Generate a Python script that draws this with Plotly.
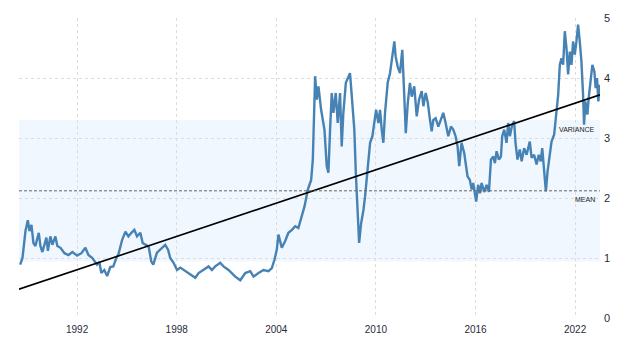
import plotly.graph_objects as go

# ---- data (decimal year, value) ----
years = [
    1988.57, 1988.71, 1988.89, 1989.03, 1989.13, 1989.25, 1989.37, 1989.49, 1989.69, 1989.79,
    1989.91, 1990.15, 1990.24, 1990.39, 1990.51, 1990.69, 1990.81, 1991.00, 1991.24, 1991.48,
    1991.72, 1992.00, 1992.26, 1992.50, 1992.68, 1992.92, 1993.20, 1993.34, 1993.46, 1993.64,
    1993.81, 1994.00, 1994.18, 1994.36, 1994.49, 1994.71, 1994.91, 1995.09, 1995.27, 1995.45,
    1995.61, 1995.81, 1995.95, 1996.11, 1996.31, 1996.47, 1996.59, 1996.81, 1997.11, 1997.31,
    1997.48, 1997.61, 1997.81, 1998.02, 1998.22, 1998.52, 1998.82, 1999.12, 1999.32, 1999.62,
    1999.92, 2000.12, 2000.32, 2000.62, 2000.82, 2001.12, 2001.53, 2001.83, 2002.13, 2002.43,
    2002.63, 2002.93, 2003.23, 2003.53, 2003.73, 2003.89, 2004.03, 2004.13, 2004.23, 2004.33,
    2004.53, 2004.73, 2004.94, 2005.14, 2005.33, 2005.50, 2005.70, 2005.90, 2006.10, 2006.20,
    2006.28, 2006.34, 2006.44, 2006.54, 2006.70, 2006.84, 2006.90, 2007.04, 2007.14, 2007.24,
    2007.34, 2007.44, 2007.58, 2007.70, 2007.84, 2007.94, 2008.04, 2008.19, 2008.34, 2008.44,
    2008.55, 2008.70, 2008.79, 2008.91, 2008.99, 2009.11, 2009.25, 2009.35, 2009.45, 2009.59,
    2009.65, 2009.79, 2009.91, 2010.01, 2010.15, 2010.25, 2010.35, 2010.45, 2010.55, 2010.71,
    2010.85, 2010.99, 2011.11, 2011.19, 2011.31, 2011.45, 2011.59, 2011.71, 2011.80, 2011.92,
    2012.05, 2012.16, 2012.31, 2012.46, 2012.60, 2012.76, 2012.86, 2013.00, 2013.12, 2013.26,
    2013.36, 2013.46, 2013.60, 2013.76, 2013.92, 2014.06, 2014.20, 2014.36, 2014.52, 2014.66,
    2014.80, 2014.92, 2015.02, 2015.16, 2015.32, 2015.42, 2015.52, 2015.66, 2015.77, 2015.86,
    2015.97, 2016.04, 2016.16, 2016.27, 2016.37, 2016.52, 2016.67, 2016.81, 2016.93, 2017.07,
    2017.17, 2017.27, 2017.41, 2017.53, 2017.61, 2017.73, 2017.87, 2017.97, 2018.07, 2018.21,
    2018.33, 2018.41, 2018.53, 2018.67, 2018.78, 2018.93, 2019.08, 2019.27, 2019.38, 2019.53,
    2019.68, 2019.81, 2019.93, 2020.02, 2020.14, 2020.24, 2020.34, 2020.44, 2020.58, 2020.74,
    2020.88, 2020.98, 2021.08, 2021.18, 2021.28, 2021.38, 2021.48, 2021.58, 2021.68, 2021.78,
    2021.88, 2021.98, 2022.08, 2022.18, 2022.28, 2022.38, 2022.48, 2022.54, 2022.62, 2022.74,
    2022.82, 2022.94, 2023.04, 2023.16, 2023.24, 2023.32, 2023.40, 2023.48,
]
values = [
    0.89, 1.00, 1.45, 1.63, 1.45, 1.55, 1.25, 1.20, 1.42, 1.20,
    1.10, 1.34, 1.12, 1.36, 1.22, 1.36, 1.20, 1.17, 1.08, 1.05,
    1.10, 1.04, 1.08, 1.17, 1.05, 1.00, 0.89, 0.93, 0.75, 0.80,
    0.70, 0.85, 0.86, 1.00, 1.06, 1.30, 1.44, 1.36, 1.42, 1.47,
    1.36, 1.42, 1.25, 1.22, 1.19, 0.94, 0.89, 1.09, 1.17, 1.22,
    1.14, 1.00, 0.92, 0.80, 0.84, 0.78, 0.72, 0.67, 0.75, 0.80,
    0.86, 0.80, 0.86, 0.92, 0.86, 0.80, 0.69, 0.63, 0.75, 0.78,
    0.69, 0.75, 0.80, 0.78, 0.83, 0.97, 1.14, 1.39, 1.28, 1.17,
    1.28, 1.42, 1.47, 1.53, 1.50, 1.67, 1.86, 2.14, 2.30, 2.64,
    3.47, 4.03, 3.64, 3.86, 3.47, 3.19, 3.14, 2.53, 2.42, 3.14,
    3.75, 3.42, 3.75, 3.25, 3.75, 2.86, 3.42, 3.92, 4.03, 4.08,
    3.69, 3.14, 2.42, 1.58, 1.25, 1.58, 1.80, 2.03, 2.36, 2.75,
    2.92, 3.03, 3.25, 3.47, 3.25, 3.47, 3.14, 2.92, 3.42, 3.92,
    4.08, 4.36, 4.61, 4.36, 4.19, 4.08, 4.47, 3.69, 3.08, 3.58,
    3.92, 3.69, 3.86, 3.36, 3.64, 3.78, 3.53, 3.75, 3.60, 3.30,
    3.11, 3.30, 3.33, 3.19, 3.30, 3.42, 3.25, 3.03, 3.19, 3.14,
    3.03, 2.86, 2.53, 2.92, 2.75, 2.58, 2.36, 2.30, 2.14, 2.25,
    2.08, 1.94, 2.22, 2.08, 2.25, 2.10, 2.22, 2.10, 2.64, 2.69,
    2.58, 2.78, 2.64, 2.69, 3.03, 3.14, 2.92, 3.25, 3.03, 3.22,
    3.28, 2.92, 2.64, 2.81, 2.61, 2.83, 2.72, 2.94, 2.67, 2.72,
    2.56, 2.72, 2.61, 2.83, 2.44, 2.11, 2.44, 2.67, 2.94, 3.06,
    3.39, 3.72, 4.22, 4.33, 4.22, 4.78, 4.50, 4.06, 4.44, 4.22,
    4.61, 4.39, 4.61, 4.89, 4.61, 4.28, 3.72, 3.22, 3.61, 3.39,
    3.67, 3.94, 4.22, 4.11, 3.83, 4.00, 3.61, 3.89,
]

mean_value = 2.12
std_value = 1.18
trend_years = [1988.5, 2023.5]
trend_values = [0.48, 3.72]
tick_years = [1992, 1998, 2004, 2010, 2016, 2022]
tick_labels = ["1992", "1998", "2004", "2010", "2016", "2022"]
y_ticks = [0, 1, 2, 3, 4, 5]

x_range = [1988.5, 2023.5]

fig = go.Figure()

fig.add_trace(go.Scatter(
    x=years, y=values, mode="lines",
    line=dict(color="rgb(70,130,180)", width=2.4),
    hoverinfo="skip", showlegend=False,
))
fig.add_trace(go.Scatter(
    x=trend_years, y=trend_values, mode="lines",
    line=dict(color="#000000", width=1.6),
    hoverinfo="skip", showlegend=False,
))

# variance band
fig.add_shape(type="rect", xref="paper", yref="y",
              x0=0, x1=1, y0=mean_value - std_value, y1=mean_value + std_value,
              fillcolor="#F0F7FE", line=dict(width=0), layer="below")
# mean line
fig.add_shape(type="line", xref="paper", yref="y",
              x0=0, x1=1, y0=mean_value, y1=mean_value,
              line=dict(color="#666666", width=1, dash="3px,2px"), layer="above")

fig.add_annotation(text="VARIANCE", xref="paper", yref="y", x=0.995,
                   y=mean_value + std_value, xanchor="right", yanchor="top",
                   yshift=-4, showarrow=False,
                   font=dict(size=7, color="#222222", family="Liberation Sans"))
fig.add_annotation(text="MEAN", xref="paper", yref="y", x=0.995,
                   y=mean_value, xanchor="right", yanchor="top",
                   yshift=-3, showarrow=False,
                   font=dict(size=7, color="#222222", family="Liberation Sans"))

fig.update_layout(
    width=640, height=351,
    margin=dict(l=19, r=40, t=18, b=33),
    paper_bgcolor="white", plot_bgcolor="white",
    font=dict(family="Liberation Sans", size=10, color="#2a2a3a"),
    hovermode=False,
    xaxis=dict(range=x_range, tickvals=tick_years, ticktext=tick_labels,
               showgrid=True, gridcolor="#dcdcdc", griddash="dot", gridwidth=1,
               zeroline=False, showline=False, ticks="", ticklabelstandoff=4,
               tickfont=dict(size=10)),
    yaxis=dict(range=[0, 5], tickvals=y_ticks, side="right",
               showgrid=True, gridcolor="#dcdcdc", griddash="dot", gridwidth=1,
               zeroline=False, showline=False, ticks="", ticklabelstandoff=3,
               tickfont=dict(size=11)),
)

fig.write_html("out.html")
